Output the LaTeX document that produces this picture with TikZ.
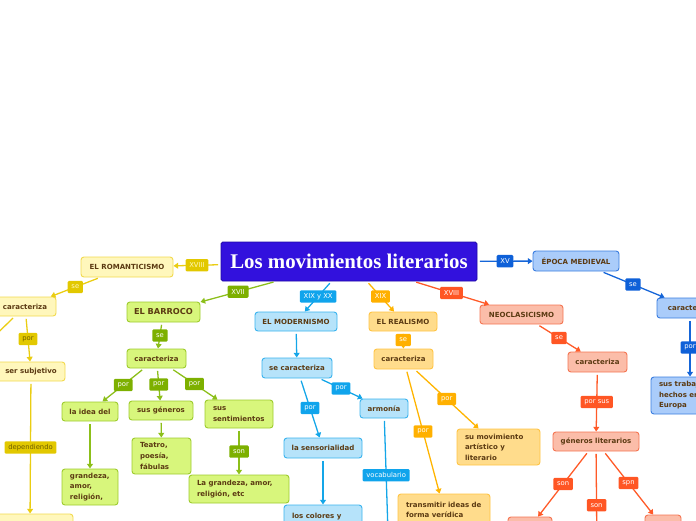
\documentclass[tikz,border=0pt]{standalone}
\usepackage{fontspec}
\usetikzlibrary{arrows.meta}
\newfontfamily\mapfont{DejaVu Sans}
\newfontfamily\titlefont{Liberation Serif}

\definecolor{nodetxt}{HTML}{5B3A12}
\definecolor{ttlfill}{HTML}{3211DD}
\definecolor{ttldraw}{HTML}{1F08A8}
\definecolor{yline}{HTML}{EACD12}
\definecolor{ylab}{HTML}{E2C800}
\definecolor{yfill}{HTML}{FFF7BC}
\definecolor{ydraw}{HTML}{F2D94E}
\definecolor{ylabtxt}{HTML}{6E5E00}
\definecolor{gline}{HTML}{8CBF1A}
\definecolor{glab}{HTML}{7DB000}
\definecolor{gfill}{HTML}{D8F67C}
\definecolor{gdraw}{HTML}{9ECB2E}
\definecolor{cline}{HTML}{14A6E8}
\definecolor{clab}{HTML}{10A4EC}
\definecolor{cfill}{HTML}{B6E3FA}
\definecolor{cdraw}{HTML}{3AB3EE}
\definecolor{aline}{HTML}{FFB400}
\definecolor{alab}{HTML}{FFB000}
\definecolor{afill}{HTML}{FFDC8C}
\definecolor{adraw}{HTML}{FFC444}
\definecolor{rline}{HTML}{FF5A28}
\definecolor{rlab}{HTML}{FF5624}
\definecolor{rfill}{HTML}{FBBDA9}
\definecolor{rdraw}{HTML}{F47552}
\definecolor{bline}{HTML}{1565D8}
\definecolor{blab}{HTML}{0E60D8}
\definecolor{bfill}{HTML}{AACCFA}
\definecolor{bdraw}{HTML}{3A7DE0}

\begin{document}
\begin{tikzpicture}[
  x=0.03cm, y=-0.03cm,
  every node/.style={inner sep=1pt},
  box/.style 2 args={draw, rounded corners=2.5pt, line width=0.8pt,
    minimum width=#1*0.03cm, minimum height=#2*0.03cm, text=nodetxt,
    font=\mapfont\bfseries\fontsize{6}{9}\selectfont},
  ttlbox/.style={fill=ttlfill, draw=ttldraw, rounded corners=1.5pt, text=white,
    font=\titlefont\bfseries\fontsize{17.8}{20}\selectfont},
  yelbox/.style={fill=yfill, draw=ydraw},
  grnbox/.style={fill=gfill, draw=gdraw},
  cynbox/.style={fill=cfill, draw=cdraw},
  ambbox/.style={fill=afill, draw=adraw},
  redbox/.style={fill=rfill, draw=rdraw},
  blubox/.style={fill=bfill, draw=bdraw},
  multi/.style={align=left, text width=#1},
  lbl/.style={fill=#1, rounded corners=1pt, inner xsep=3.2pt, inner ysep=1.5pt,
    minimum height=0.37cm, text=white, font=\mapfont\fontsize{5.8}{6.5}\selectfont},
  ylbl/.style={lbl=ylab, text=ylabtxt},
  glbl/.style={lbl=glab},
  clbl/.style={lbl=clab},
  albl/.style={lbl=alab},
  rlbl/.style={lbl=rlab},
  blbl/.style={lbl=blab},
  con/.style={draw=#1, line width=1.1pt, shorten <=2pt,
    -{Triangle[length=4pt, width=5pt]}}]

  \useasboundingbox (0,0) rectangle (696,520);
  \clip (0,0) rectangle (696,520);

  % central topic
  \node[box={256}{39}, ttlbox] (title) at (349,261.5) {Los movimientos literarios};

  % romanticismo
  \node[box={92}{20}, yelbox] (romant)   at (127,267)   {EL ROMANTICISMO};
  \node[box={62}{19}, yelbox] (carY)     at (25,306.5)  {caracteriza};
  \node[box={68}{19}, yelbox] (subj)     at (31,371.5)  {ser subjetivo};
  \node[box={86}{20}, yelbox] (subjNext) at (30,524)    {};
  \coordinate (carYout) at (-20,350);

  % barroco
  \node[box={73}{20}, grnbox, font=\mapfont\bfseries\fontsize{7}{9}\selectfont] (barroco) at (163.5,312) {EL BARROCO};
  \node[box={59}{19}, grnbox] (carG)    at (156.5,358.5) {caracteriza};
  \node[box={56}{19}, grnbox] (idea)    at (90,411.5)    {la idea del};
  \node[box={64}{19}, grnbox] (generos) at (161,410.5)   {sus géneros};
  \node[box={68}{28}, grnbox, multi=1.56cm] (sentim)     at (239,414) {sus\\sentimientos};
  \node[box={56}{36}, grnbox, multi=1.2cm]  (grandeza)   at (90,487)  {grandeza,\\amor,\\religión,};
  \node[box={59}{36}, grnbox, multi=1.29cm] (teatro)     at (161.5,456) {Teatro,\\poesía,\\fábulas};
  \node[box={100}{28}, grnbox, multi=2.52cm] (lagrandeza) at (239,489) {La grandeza, amor,\\religión, etc};

  % modernismo
  \node[box={82}{19}, cynbox] (modern)  at (296,321.5) {EL MODERNISMO};
  \node[box={70}{20}, cynbox] (secar)   at (297,368)   {se caracteriza};
  \node[box={48}{19}, cynbox] (armonia) at (384,408.5) {armonía};
  \node[box={78}{20}, cynbox] (sensor)  at (323,448)   {la sensorialidad};
  \node[box={78}{24}, cynbox, multi=1.86cm] (colores) at (323,517) {los colores y};
  \coordinate (vocabEnd) at (388,532);

  % realismo
  \node[box={68}{19}, ambbox] (realismo) at (403,321.5) {EL REALISMO};
  \node[box={59}{20}, ambbox] (carA)     at (403.5,359) {caracteriza};
  \node[box={83}{36}, ambbox, multi=2.01cm] (movim)  at (498.5,447) {su movimiento\\artístico y\\literario};
  \node[box={92}{32}, ambbox, multi=2.28cm] (transm) at (444,510)   {transmitir ideas de\\forma verídica};

  % neoclasicismo
  \node[box={83}{19}, redbox] (neo)    at (521.5,314.5) {NEOCLASICISMO};
  \node[box={59}{20}, redbox] (carR)   at (597.5,362)   {caracteriza};
  \node[box={86}{19}, redbox] (genlit) at (596,441.5)   {géneros literarios};
  \node[box={44}{20}, redbox] (genA)   at (530,527)     {};
  \coordinate (genB) at (597,559);
  \node[box={36}{24}, redbox] (genC)   at (663,527)     {};

  % epoca medieval
  \node[box={86}{20}, blubox] (medieval) at (576,261) {ÉPOCA MEDIEVAL};
  \node[box={66}{20}, blubox] (carB)     at (690,308) {caracteriza};
  \node[box={78}{37}, blubox, multi=1.86cm] (trab) at (690,395.5) {sus trabajos\\hechos en\\Europa};

  % connectors
  \draw[con=yline] (title) -- node[ylbl, text=yfill] {XVIII} (romant);
  \draw[con=yline] (romant) -- node[ylbl, text=yfill] {se} (carY);
  \draw[con=yline] (carY) -- (carYout);
  \draw[con=yline] (carY) -- node[ylbl] {por} (subj);
  \draw[con=yline] (subj) -- node[ylbl] {dependiendo} (subjNext);

  \draw[con=gline] (title) -- node[glbl] {XVII} (barroco);
  \draw[con=gline] (barroco) -- node[glbl] {se} (carG);
  \draw[con=gline] (carG) -- node[glbl] {por} (idea);
  \draw[con=gline] (carG) -- node[glbl] {por} (generos);
  \draw[con=gline] (carG) -- node[glbl] {por} (sentim);
  \draw[con=gline] (idea) -- (grandeza);
  \draw[con=gline] (generos) -- (teatro);
  \draw[con=gline] (sentim) -- node[glbl] {son} (lagrandeza);

  \draw[con=cline] (title) -- node[clbl] {XIX y XX} (modern);
  \draw[con=cline] (modern) -- (secar);
  \draw[con=cline] (secar) -- node[clbl] {por} (sensor);
  \draw[con=cline] (secar) -- node[clbl] {por} (armonia);
  \draw[con=cline] (sensor) -- (colores);
  \draw[con=cline] (armonia) -- node[clbl] {vocabulario} (vocabEnd);

  \draw[con=aline] (title) -- node[albl] {XIX} (realismo);
  \draw[con=aline] (realismo) -- node[albl] {se} (carA);
  \draw[con=aline] (carA) -- node[albl] {por} (movim);
  \draw[con=aline] (carA) -- node[albl] {por} (transm);

  \draw[con=rline] (title) -- node[rlbl] {XVIII} (neo);
  \draw[con=rline] (neo) -- node[rlbl] {se} (carR);
  \draw[con=rline] (carR) -- node[rlbl] {por sus} (genlit);
  \draw[con=rline] (genlit) -- node[rlbl] {son} (genA);
  \draw[con=rline] (genlit) -- node[rlbl] {son} (genB);
  \draw[con=rline] (genlit) -- node[rlbl] {spn} (genC);

  \draw[con=bline] (title) -- node[blbl] {XV} (medieval);
  \draw[con=bline] (medieval) -- node[blbl] {se} (carB);
  \draw[con=bline] (carB) -- node[blbl] {por} (trab);

\end{tikzpicture}
\end{document}
